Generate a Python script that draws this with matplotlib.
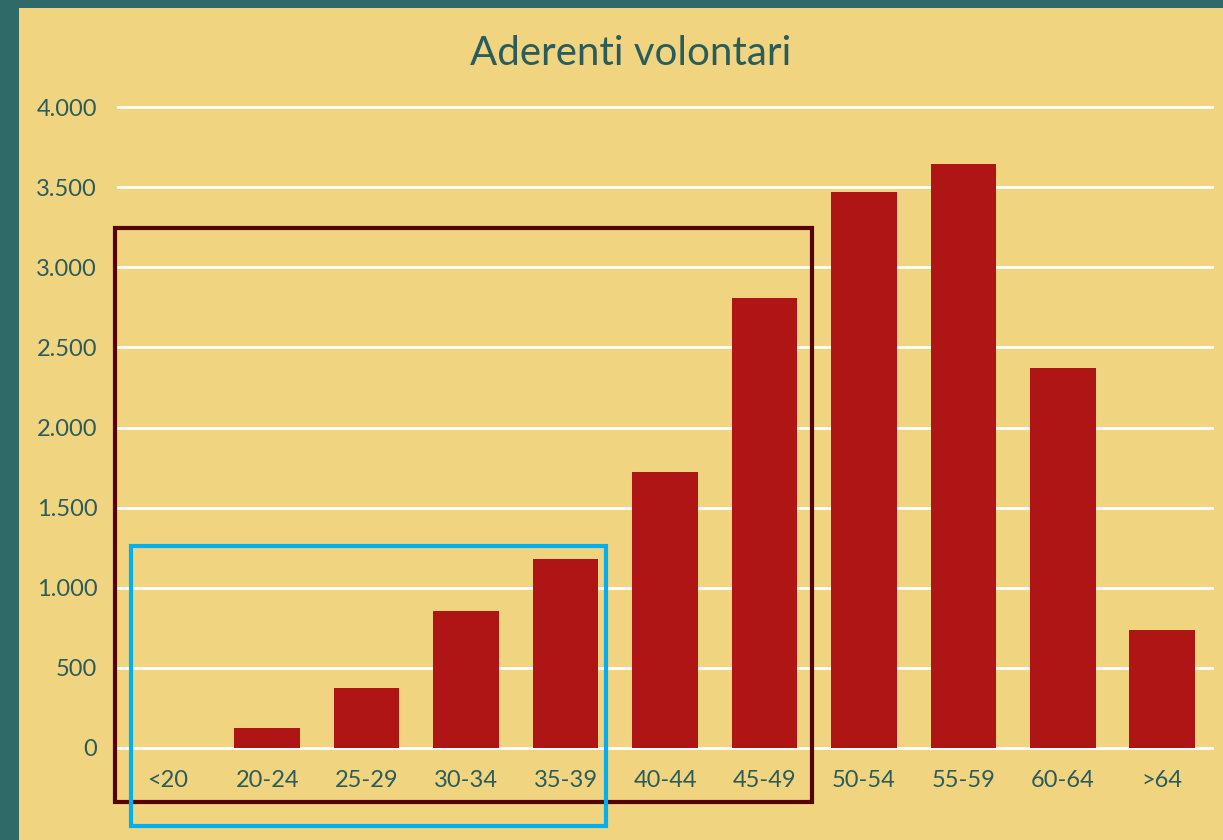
import matplotlib.pyplot as plt
from matplotlib.patches import Rectangle
from matplotlib.ticker import FuncFormatter

fasce = ['<20', '20-24', '25-29', '30-34', '35-39', '40-44', '45-49',
         '50-54', '55-59', '60-64', '>64']
aderenti = [0, 125, 375, 855, 1180, 1722, 2808, 3470, 3644, 2371, 736]
yticks = [0, 500, 1000, 1500, 2000, 2500, 3000, 3500, 4000]

giallo = '#F0D480'
rosso = '#AF1515'
testo = '#2B5C5C'

plt.rcParams['font.family'] = ['Lato', 'DejaVu Sans']

fig = plt.figure(figsize=(12.23, 8.4), dpi=100)
fig.patch.set_facecolor('#2F6A68')
# pannello giallo (sfondo della slide)
sfondo = fig.add_axes([19 / 1223, 0, 1 - 19 / 1223, 832 / 840], zorder=-1)
sfondo.set_facecolor(giallo)
sfondo.set_axis_off()
sfondo.add_patch(Rectangle((0, 0), 1, 1, transform=sfondo.transAxes,
                           facecolor=giallo, edgecolor='none'))

ax = fig.add_axes([118 / 1223, 92 / 840, 1094 / 1223, 641 / 840])
ax.set_facecolor('none')
x = range(len(fasce))
ax.bar(x, aderenti, width=0.66, color=rosso, zorder=3)

ax.set_xlim(-0.5, len(fasce) - 0.5)
ax.set_ylim(0, 4000)
ax.set_yticks(yticks)
ax.yaxis.set_major_formatter(FuncFormatter(lambda v, p: f'{int(v):,}'.replace(',', '.')))
ax.set_xticks(list(x))
ax.set_xticklabels(fasce)
ax.tick_params(length=0, colors=testo, labelsize=17)
ax.tick_params(axis='x', pad=16)
ax.tick_params(axis='y', pad=15)
for lab in ax.get_yticklabels() + ax.get_xticklabels():
    lab.set_color(testo)
for s in ax.spines.values():
    s.set_visible(False)
ax.grid(axis='y', color='white', linewidth=2, zorder=1)
for gl in ax.get_ygridlines():
    gl.set_clip_on(False)

ax.set_title('Aderenti volontari', fontsize=29, color=testo, pad=30, x=0.469)

# riquadri di evidenziazione
ax.add_patch(Rectangle((-0.53, -337), 7.01, 3582, fill=False, edgecolor='#550303',
                       linewidth=3, clip_on=False, zorder=5))
ax.add_patch(Rectangle((-0.37, -487), 4.78, 1747, fill=False, edgecolor='#00B0F0',
                       linewidth=3, clip_on=False, zorder=6))

fig.savefig('out.png', dpi=100, facecolor=fig.get_facecolor())
